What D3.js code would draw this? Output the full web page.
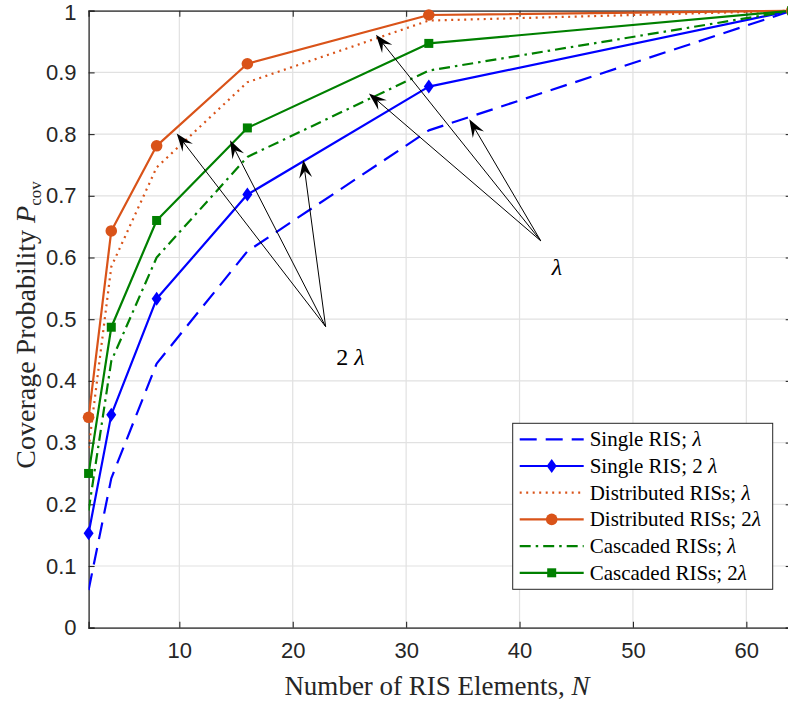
<!DOCTYPE html>
<html><head><meta charset="utf-8">
<script src="https://cdn.jsdelivr.net/npm/d3@7"></script>
<style>
html,body{margin:0;padding:0;background:#fff;}
svg{display:block;}
</style></head>
<body>
<svg id="chart" width="788" height="706"></svg>
<script>
// ---- data ----
const N = [2, 4, 8, 16, 32, 64];
const singleLam = [0.061, 0.242, 0.428, 0.610, 0.806, 1.0];
const single2Lam = [0.153, 0.345, 0.533, 0.702, 0.877, 1.0];
const distLam = [0.291, 0.585, 0.746, 0.884, 0.984, 1.0];
const dist2Lam = [0.341, 0.643, 0.781, 0.914, 0.993, 1.0];
const cascLam = [0.190, 0.432, 0.600, 0.763, 0.903, 1.0];
const casc2Lam = [0.250, 0.487, 0.660, 0.810, 0.947, 1.0];
const xTicks = [10, 20, 30, 40, 50, 60];
const yTicks = [0, 0.1, 0.2, 0.3, 0.4, 0.5, 0.6, 0.7, 0.8, 0.9, 1];
const seriesNames = [["Single RIS; ", "λ"], ["Single RIS; 2 ", "λ"], ["Distributed RISs; ", "λ"], ["Distributed RISs; 2", "λ"], ["Cascaded RISs; ", "λ"], ["Cascaded RISs; 2", "λ"]];
// annotation arrows in data space
const arrows2Lam = {from: [22.9, 0.488], to: [[9.77, 0.801], [14.47, 0.790], [20.93, 0.758]], label: ["2 ", "λ"], labelAt: [25.1, 0.426]};
const arrowsLam = {from: [41.87, 0.627], to: [[27.34, 0.961], [26.72, 0.866], [35.57, 0.824]], label: ["", "λ"], labelAt: [43.3, 0.572]};

const series = [
  {name: seriesNames[0], values: singleLam, color: "#0000ff", dash: "17,9", marker: null},
  {name: seriesNames[1], values: single2Lam, color: "#0000ff", dash: null, marker: "diamond"},
  {name: seriesNames[2], values: distLam, color: "#d95319", dash: "2,4.5", marker: null},
  {name: seriesNames[3], values: dist2Lam, color: "#d95319", dash: null, marker: "circle"},
  {name: seriesNames[4], values: cascLam, color: "#008000", dash: "11,5,2.5,5", marker: null},
  {name: seriesNames[5], values: casc2Lam, color: "#008000", dash: null, marker: "square"}
];

const svg = d3.select("#chart");
const L = 88.6, R = 791.7, T = 10.7, B = 627.7;
const x = d3.scaleLinear().domain([2, 64]).range([L, R]);
const y = d3.scaleLinear().domain([0, 1]).range([B, T]);
const axisColor = "#262626";
const tickFont = "'Liberation Sans Narrow', 'Liberation Sans', Arial, sans-serif";
const serif = "'Liberation Serif', 'Times New Roman', serif";

svg.append("defs").append("clipPath").attr("id", "clip")
  .append("rect").attr("x", L).attr("y", T - 6).attr("width", R - L + 6).attr("height", B - T + 12);

// grid
const grid = svg.append("g");
grid.selectAll("line.gx").data(xTicks).join("line")
  .attr("x1", d => x(d)).attr("x2", d => x(d)).attr("y1", T).attr("y2", B)
  .attr("stroke", "#e1e1e1").attr("stroke-width", 1.2);
grid.selectAll("line.gy").data(yTicks).join("line")
  .attr("y1", d => y(d)).attr("y2", d => y(d)).attr("x1", L).attr("x2", R)
  .attr("stroke", "#e1e1e1").attr("stroke-width", 1.2);

// axes
const xAxis = d3.axisBottom(x).tickValues(xTicks).tickSize(-6).tickPadding(15).tickFormat(d3.format("d"));
const yAxis = d3.axisLeft(y).tickValues(yTicks).tickSize(-6).tickPadding(12).tickFormat(d => d === 0 ? "0" : d === 1 ? "1" : d3.format(".1f")(d));
const gx = svg.append("g").attr("transform", `translate(0,${B})`).call(xAxis);
const gy = svg.append("g").attr("transform", `translate(${L},0)`).call(yAxis);
const xTop = d3.axisTop(x).tickValues(xTicks).tickSize(-6).tickFormat("");
const yRight = d3.axisRight(y).tickValues(yTicks).tickSize(-6).tickFormat("");
svg.append("g").attr("transform", `translate(0,${T})`).call(xTop);
svg.append("g").attr("transform", `translate(${R},0)`).call(yRight);
svg.selectAll(".domain").attr("stroke", axisColor).attr("stroke-width", 1.3);
svg.selectAll(".tick line").attr("stroke", axisColor).attr("stroke-width", 1.1);
svg.selectAll(".tick text").attr("fill", axisColor).style("font-family", tickFont).style("font-size", "22px");
gy.selectAll(".tick text").filter(d => d === 1).attr("dy", "0.42em");

// lines
const plot = svg.append("g").attr("clip-path", "url(#clip)");
const lineGen = d3.line().x((d, i) => x(N[i])).y(d => y(d));
series.forEach(s => {
  plot.append("path").datum(s.values).attr("d", lineGen)
    .attr("fill", "none").attr("stroke", s.color).attr("stroke-width", 2.2)
    .attr("stroke-dasharray", s.dash).attr("stroke-linejoin", "round");
});

function drawMarker(g, type, cx, cy, color) {
  if (type === "circle") {
    g.append("circle").attr("cx", cx).attr("cy", cy).attr("r", 5.8).attr("fill", color);
  } else if (type === "square") {
    g.append("rect").attr("x", cx - 4.5).attr("y", cy - 4.5).attr("width", 9).attr("height", 9).attr("fill", color);
  } else if (type === "diamond") {
    g.append("path").attr("d", `M${cx},${cy - 7}L${cx + 5},${cy}L${cx},${cy + 7}L${cx - 5},${cy}Z`).attr("fill", color);
  }
}
const markersG = svg.append("g");
series.filter(s => s.marker).forEach(s => {
  s.values.forEach((v, i) => drawMarker(markersG, s.marker, x(N[i]), y(v), s.color));
});

// annotations
function arrowHead(g, x0, y0, x1, y1) {
  const a = Math.atan2(y1 - y0, x1 - x0);
  const Lh = 18, W = 13;
  const pts = [[0, 0], [-Lh, -W / 2], [-Lh * 0.62, 0], [-Lh, W / 2]].map(([px, py]) => [
    x1 + px * Math.cos(a) - py * Math.sin(a), y1 + px * Math.sin(a) + py * Math.cos(a)]);
  g.append("path").attr("d", "M" + pts.map(p => p.join(",")).join("L") + "Z").attr("fill", "#000");
}
const ann = svg.append("g");
[arrows2Lam, arrowsLam].forEach(grp => {
  const fx = x(grp.from[0]), fy = y(grp.from[1]);
  grp.to.forEach(t => {
    const tx = x(t[0]), ty = y(t[1]);
    const a = Math.atan2(ty - fy, tx - fx);
    ann.append("line").attr("x1", fx).attr("y1", fy)
      .attr("x2", tx - 10 * Math.cos(a)).attr("y2", ty - 10 * Math.sin(a))
      .attr("stroke", "#000").attr("stroke-width", 1);
    arrowHead(ann, fx, fy, tx, ty);
  });
  const t = ann.append("text").attr("x", x(grp.labelAt[0])).attr("y", y(grp.labelAt[1]))
    .attr("text-anchor", "middle").style("font-family", serif).style("font-size", "24px");
  t.append("tspan").text(grp.label[0]);
  t.append("tspan").attr("font-style", "italic").text(grp.label[1]);
});

// axis labels
svg.append("text").attr("x", 437).attr("y", 695).attr("text-anchor", "middle")
  .style("font-family", serif).style("font-size", "27px").attr("fill", axisColor)
  .html("Number of RIS Elements, <tspan font-style='italic'>N</tspan>");
svg.append("text").attr("transform", `translate(35,325) rotate(-90)`).attr("text-anchor", "middle")
  .style("font-family", serif).style("font-size", "28px").attr("fill", axisColor)
  .html("Coverage Probability <tspan font-style='italic'>P</tspan><tspan font-size='17px' dy='6'>cov</tspan>");

// legend
const lg = svg.append("g");
const lx = 512.7, ly = 423.3, lw = 260, lh = 166;
lg.append("rect").attr("x", lx).attr("y", ly).attr("width", lw).attr("height", lh)
  .attr("fill", "#fff").attr("stroke", axisColor).attr("stroke-width", 1);
series.forEach((s, i) => {
  const ry = ly + 16 + i * 26.7;
  lg.append("line").attr("x1", lx + 7).attr("x2", lx + 71).attr("y1", ry).attr("y2", ry)
    .attr("stroke", s.color).attr("stroke-width", 2.2).attr("stroke-dasharray", s.dash);
  if (s.marker) drawMarker(lg, s.marker, lx + 39, ry, s.color);
  const t = lg.append("text").attr("x", lx + 77).attr("y", ry + 7).style("font-family", serif)
    .style("font-size", "21px").attr("fill", "#000");
  t.append("tspan").text(s.name[0]);
  t.append("tspan").attr("font-style", "italic").text(s.name[1]);
});
</script>
</body></html>
